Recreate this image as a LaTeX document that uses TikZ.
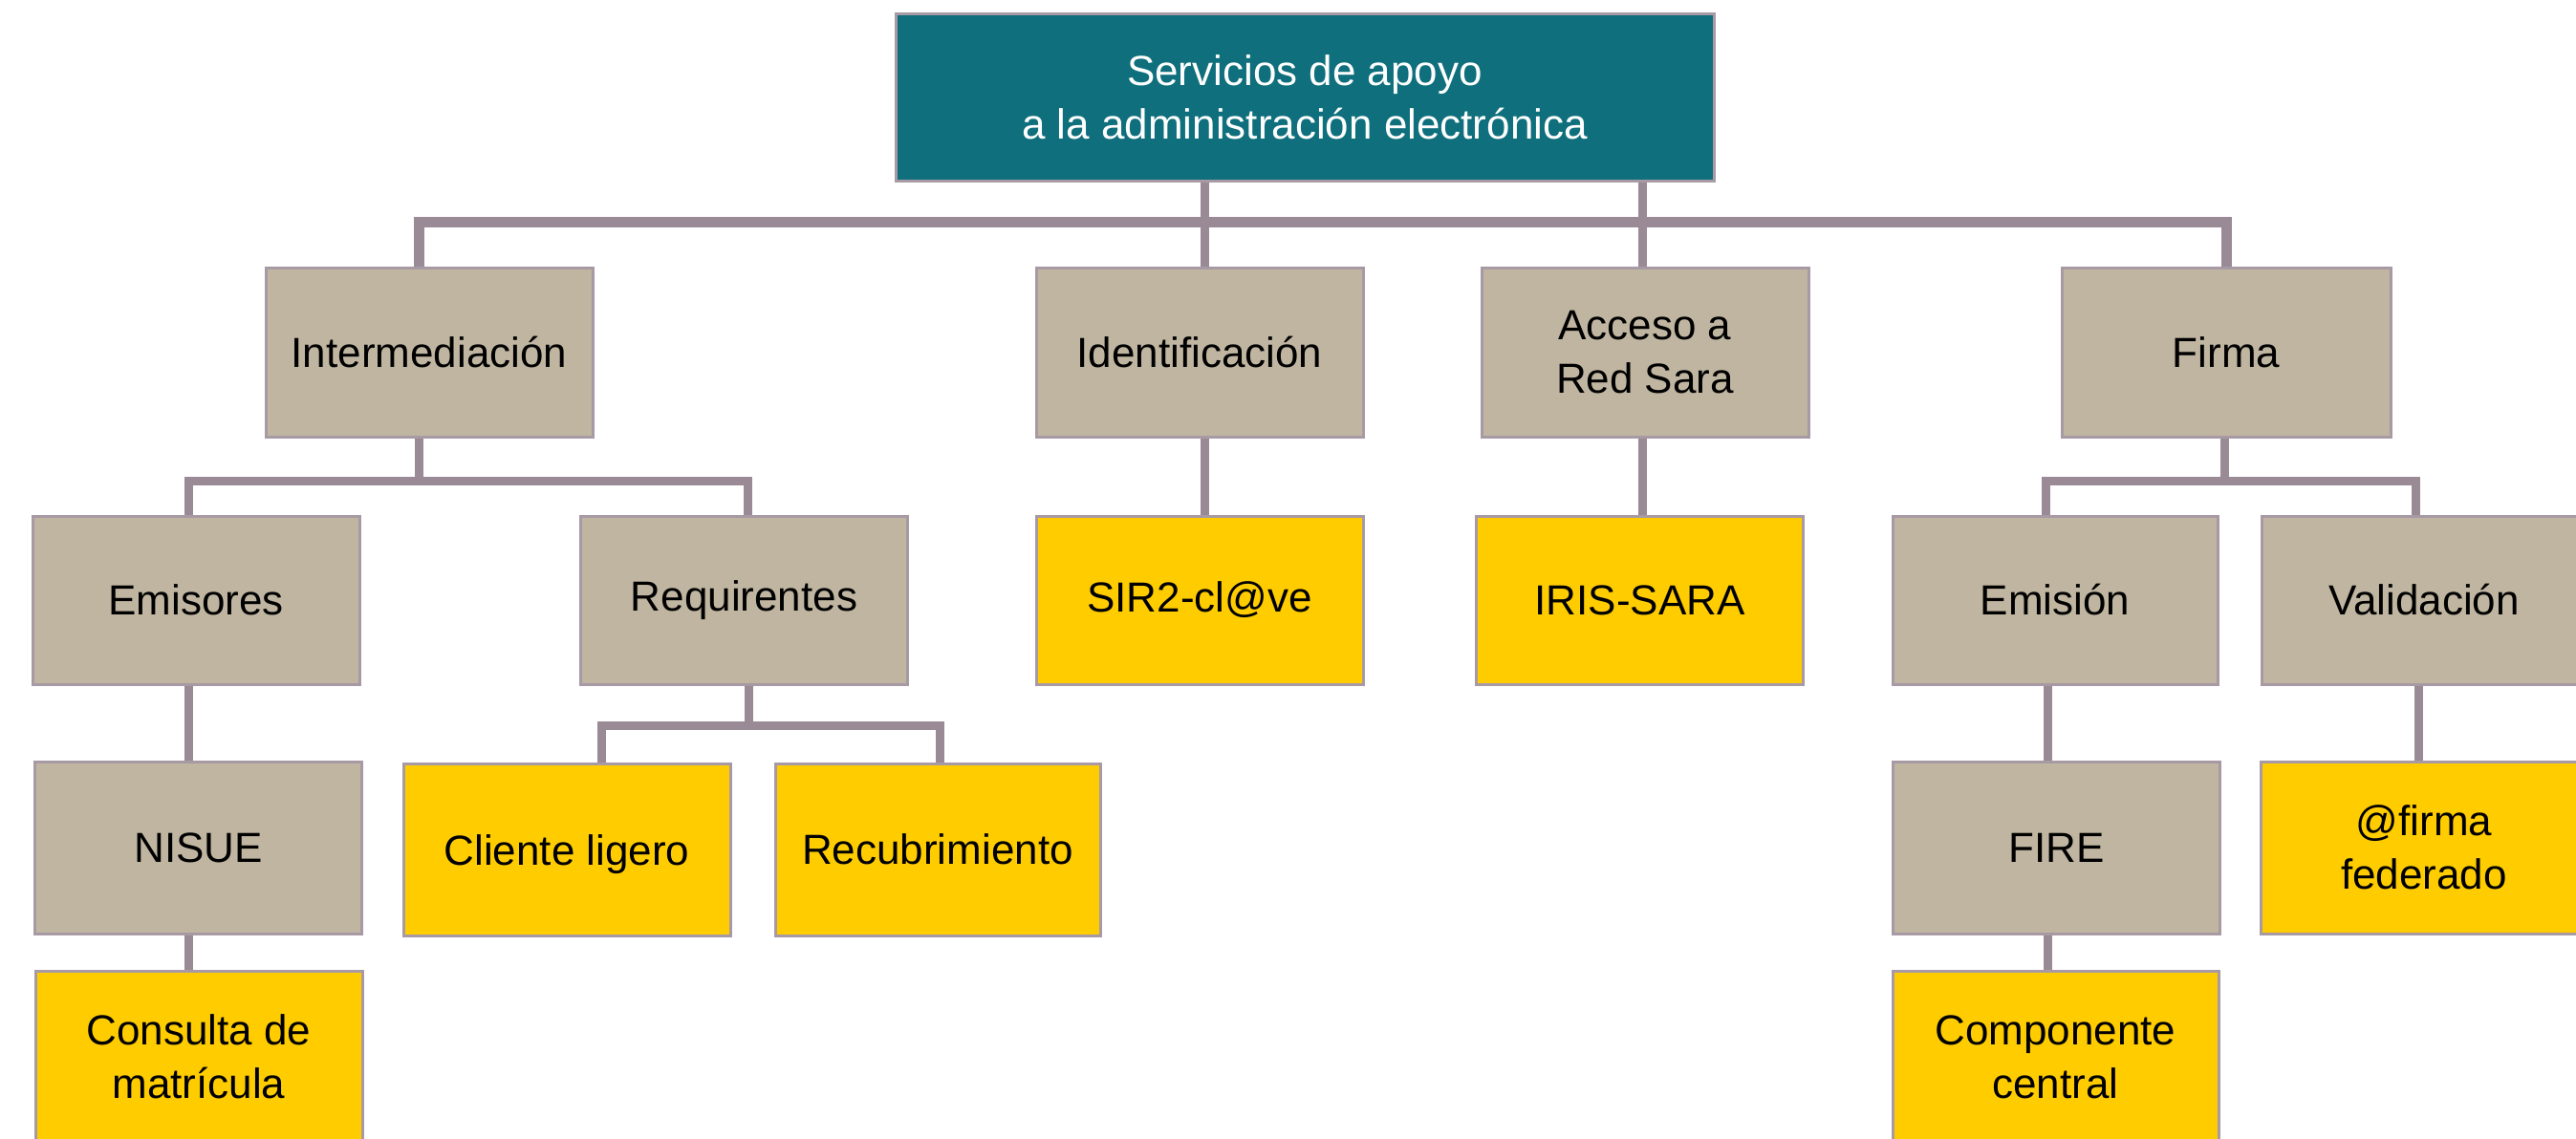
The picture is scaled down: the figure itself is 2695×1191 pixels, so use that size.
\documentclass[tikz,border=0pt]{standalone}
\usepackage{fontspec}
\setmainfont{Liberation Sans}
\definecolor{rootfill}{HTML}{0F6F7D}
\definecolor{beige}{HTML}{BFB5A0}
\definecolor{gold}{HTML}{FFCC00}
\definecolor{conn}{HTML}{9A8A95}
\definecolor{edgec}{HTML}{A89AA5}
\begin{document}
\begin{tikzpicture}[x=1pt,y=-1pt,
  box/.style={draw=edgec, line width=3pt, minimum width=342pt, minimum height=177pt,
    inner sep=0pt, align=center, font=\fontsize{44}{56}\selectfont, text=black},
  grey/.style={box, fill=beige},
  yell/.style={box, fill=gold},
  link/.style={draw=conn, line width=9pt},
]
\useasboundingbox (0,0) rectangle (2695,1191);
\clip (0,0) rectangle (2695,1191);
\fill[white] (0,0) rectangle (2695,1191);

% root
\node[box, fill=rootfill, text=white, minimum width=856pt, minimum height=175pt] (root) at (1365,101.5)
  {Servicios de apoyo\\a la administración electrónica};

% level 1
\node[grey] (inter) at (449,368.5) {Intermediación};
\node[grey] (ident) at (1255,368.5) {Identificación};
\node[grey] (acc)   at (1721,368.5) {Acceso a\\Red Sara};
\node[grey, minimum width=344pt] (firma) at (2329,368.5) {Firma};

% level 2
\node[grey, minimum height=176pt] (emis) at (205,628) {Emisores};
\node[grey, minimum height=176pt] (req)  at (778.5,628) {Requirentes};
\node[yell, minimum height=176pt] (sir)  at (1255,628) {SIR2-cl@ve};
\node[yell, minimum height=176pt] (iris) at (1715.5,628) {IRIS-SARA};
\node[grey, minimum height=176pt, minimum width=340pt] (emision) at (2150,628) {Emisión};
\node[grey, minimum height=176pt, minimum width=340pt] (valid) at (2536,628) {Validación};

% level 3
\node[grey, minimum height=180pt] (nisue) at (207.5,887) {NISUE};
\node[yell, minimum height=180pt] (cli)   at (593,889) {\raisebox{0pt}[32pt][0pt]{Cliente ligero}};
\node[yell, minimum height=180pt, minimum width=340pt] (rec) at (981,889) {Recubrimiento};
\node[grey, minimum height=180pt] (fire)  at (2151.5,887) {FIRE};
\node[yell, minimum height=180pt] (fed)   at (2536,887) {@firma\\federado};

% level 4
\node[yell, minimum height=180pt] (cons) at (208,1106) {Consulta de\\matrícula};
\node[yell, minimum height=180pt, minimum width=341pt] (comp) at (2150.5,1106) {Componente\\central};

% connectors
\coordinate (busA) at (0,232);
\coordinate (busB) at (0,503);
\coordinate (busC) at (0,759);

\draw[link, line width=11pt] ([xshift=-11pt]inter.north) -- ([xshift=-11pt]inter.north |- busA) -- (firma.north |- busA) -- (firma.north);
\draw[link] ([xshift=5pt]root.south -| ident.north) -- ([xshift=5pt]ident.north);
\draw[link] ([xshift=-3pt]root.south -| acc.north) -- ([xshift=-3pt]acc.north);
\draw[link] ([xshift=5pt]ident.south) -- ([xshift=5pt]sir.north);
\draw[link] ([xshift=-3pt]acc.south) -- ([xshift=-3pt]acc.south |- iris.north);

\draw[link] ([xshift=-11pt]inter.south) -- ([xshift=-11pt]inter.south |- busB);
\draw[link] ([xshift=-8pt]emis.north) -- ([xshift=-8pt]emis.north |- busB) -- ([xshift=4pt]req.north |- busB) -- ([xshift=4pt]req.north);
\draw[link] ([xshift=-2pt]firma.south) -- ([xshift=-2pt]firma.south |- busB);
\draw[link] ([xshift=-10pt]emision.north) -- ([xshift=-10pt]emision.north |- busB) -- ([xshift=-9pt]valid.north |- busB) -- ([xshift=-9pt]valid.north);

\draw[link] ([xshift=5pt]req.south) -- ([xshift=5pt]req.south |- busC);
\draw[link] ([xshift=36pt]cli.north) -- ([xshift=36pt]cli.north |- busC) -- ([xshift=2pt]rec.north |- busC) -- ([xshift=2pt]rec.north);

\draw[link] ([xshift=-8pt]emis.south) -- ([xshift=-8pt]emis.south |- nisue.north);
\draw[link] ([xshift=-10pt]nisue.south) -- ([xshift=-10pt]nisue.south |- cons.north);
\draw[link] ([xshift=-8pt]emision.south) -- ([xshift=-8pt]emision.south |- fire.north);
\draw[link] ([xshift=-9pt]fire.south) -- ([xshift=-9pt]fire.south |- comp.north);
\draw[link] ([xshift=-6pt]valid.south) -- ([xshift=-6pt]valid.south |- fed.north);
\end{tikzpicture}
\end{document}
